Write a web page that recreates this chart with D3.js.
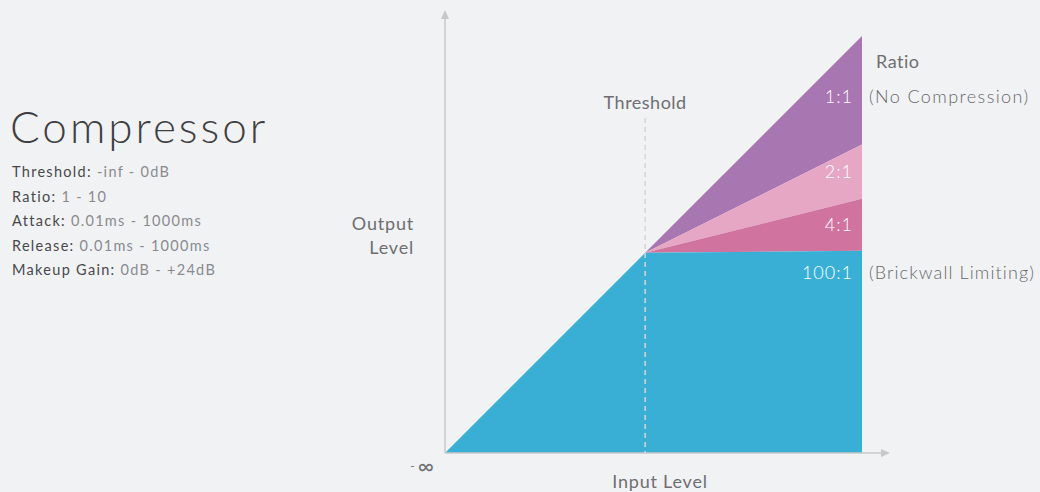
<!DOCTYPE html>
<html>
<head>
<meta charset="utf-8">
<script src="https://cdn.jsdelivr.net/npm/d3@7"></script>
<style>
  body { margin: 0; background: #f1f2f4; }
  text { font-family: Lato, "Open Sans", sans-serif; }
</style>
</head>
<body>
<script>
// reglas de compresión
var ratios = [1, 2, 4, 100];
var ratioLabels = ['1:1', '2:1', '4:1', '100:1'];
var ratioNotes = ['(No Compression)', '', '', '(Brickwall Limiting)'];
var colors = ['#a876b1', '#e6a7c5', '#d0739f', '#3aafd6'];
var threshold = 48;
var inputMax = 100;
var specNames = ['Threshold:', 'Ratio:', 'Attack:', 'Release:', 'Makeup Gain:'];
var specValues = ['-inf - 0dB', '1 - 10', '0.01ms - 1000ms', '0.01ms - 1000ms', '0dB - +24dB'];

var width = 1040, height = 492;

var x = d3.scaleLinear().domain([0, inputMax]).range([445, 862]);
var y = d3.scaleLinear().domain([0, inputMax]).range([453, 36]);

var svg = d3.select("body").append("svg").attr("width", width).attr("height", height);

function out(v, r) { return v <= threshold ? v : threshold + (v - threshold) / r; }

// áreas, del mayor al menor
svg.selectAll("path.band")
      .data(ratios)
      .enter().append("path")
      .attr("class", "band")
      .attr("fill", function (d, i) { return colors[i]; })
      .attr("d", function (r, i) {
            var pts = [[0, 0], [threshold, threshold], [inputMax, out(inputMax, r)], [inputMax, 0]];
            if (i < ratios.length - 1) {
                  pts = [[threshold, threshold], [inputMax, out(inputMax, r)], [inputMax, out(inputMax, ratios[i + 1])]];
            }
            return d3.line().x(function (p) { return x(p[0]); }).y(function (p) { return y(p[1]); })(pts) + "Z";
      });

// ejes
svg.append("line").attr("x1", x(0)).attr("y1", y(0)).attr("x2", x(0)).attr("y2", 14)
      .attr("stroke", "#c8c8c8").attr("stroke-width", 1.5);
svg.append("path").attr("d", "M" + x(0) + ",10 l-4,9 l8,0 Z").attr("fill", "#c8c8c8");
svg.append("line").attr("x1", x(0)).attr("y1", y(0)).attr("x2", 886).attr("y2", y(0))
      .attr("stroke", "#c8c8c8").attr("stroke-width", 1.5);
svg.append("path").attr("d", "M890," + y(0) + " l-9,-4 l0,8 Z").attr("fill", "#c8c8c8");

// umbral
svg.append("line").attr("x1", x(threshold)).attr("x2", x(threshold))
      .attr("y1", 118).attr("y2", y(0))
      .attr("stroke", "#d4d6da").attr("stroke-width", 1.5).attr("stroke-dasharray", "5,4");
svg.append("text").attr("x", x(threshold)).attr("y", 109).attr("text-anchor", "middle")
      .attr("font-size", 18).attr("fill", "#6e6e72").attr("letter-spacing", 0.5).text("Threshold");

// etiquetas de ratio
svg.selectAll("text.rl")
      .data(ratios)
      .enter().append("text")
      .attr("class", "rl")
      .attr("x", x(inputMax) - 9)
      .attr("y", function (r, i) {
            if (i === 0) return 103;
            if (i === 3) return 279;
            return y((out(inputMax, r) + out(inputMax, ratios[i + 1])) / 2) + 6;
      })
      .attr("text-anchor", "end").attr("font-size", 18).attr("font-weight", 300)
      .attr("fill", "#ffffff").attr("letter-spacing", 1)
      .text(function (d, i) { return ratioLabels[i]; });

svg.selectAll("text.note")
      .data(ratioNotes)
      .enter().append("text")
      .attr("class", "note")
      .attr("x", 869)
      .attr("y", function (d, i) { return i === 0 ? 103 : 279; })
      .attr("font-size", 18).attr("font-weight", 300).attr("fill", "#68686c")
      .attr("letter-spacing", function (d, i) { return i === 0 ? 1.4 : 1.1; })
      .text(function (d) { return d; });

svg.append("text").attr("x", 876).attr("y", 68).attr("font-size", 18).attr("fill", "#6e6e72")
      .attr("letter-spacing", 0.5).text("Ratio");

// títulos de ejes
var inf = svg.append("text").attr("x", 434).attr("y", 474).attr("text-anchor", "end")
      .attr("fill", "#6e6e72");
inf.append("tspan").attr("font-size", 12).attr("dy", -4).text("- ");
inf.append("tspan").attr("font-size", 22).attr("dy", 4).text("∞");
svg.append("text").attr("x", 660).attr("y", 488).attr("text-anchor", "middle")
      .attr("font-size", 18).attr("fill", "#6e6e72").attr("letter-spacing", 0.8).text("Input Level");
svg.append("text").attr("text-anchor", "end").attr("font-size", 18).attr("fill", "#6e6e72")
      .attr("letter-spacing", 0.8)
      .selectAll("tspan").data(["Output", "Level"]).enter().append("tspan")
      .attr("x", 414).attr("y", function (d, i) { return 230 + i * 24; })
      .text(function (d) { return d; });

// título y especificaciones
svg.append("text").attr("x", 10).attr("y", 143).attr("font-size", 44).attr("font-weight", 300)
      .attr("fill", "#3f3f42").attr("letter-spacing", 3).text("Compressor");

var spec = svg.selectAll("text.spec")
      .data(specNames)
      .enter().append("text")
      .attr("class", "spec")
      .attr("x", 12)
      .attr("y", function (d, i) { return 177 + i * 24.5; })
      .attr("font-size", 14.5).attr("letter-spacing", 1.3);
spec.append("tspan").attr("fill", "#48484b").text(function (d) { return d + " "; });
spec.append("tspan").attr("fill", "#8a8a8e").text(function (d, i) { return specValues[i]; });
</script>
</body>
</html>
